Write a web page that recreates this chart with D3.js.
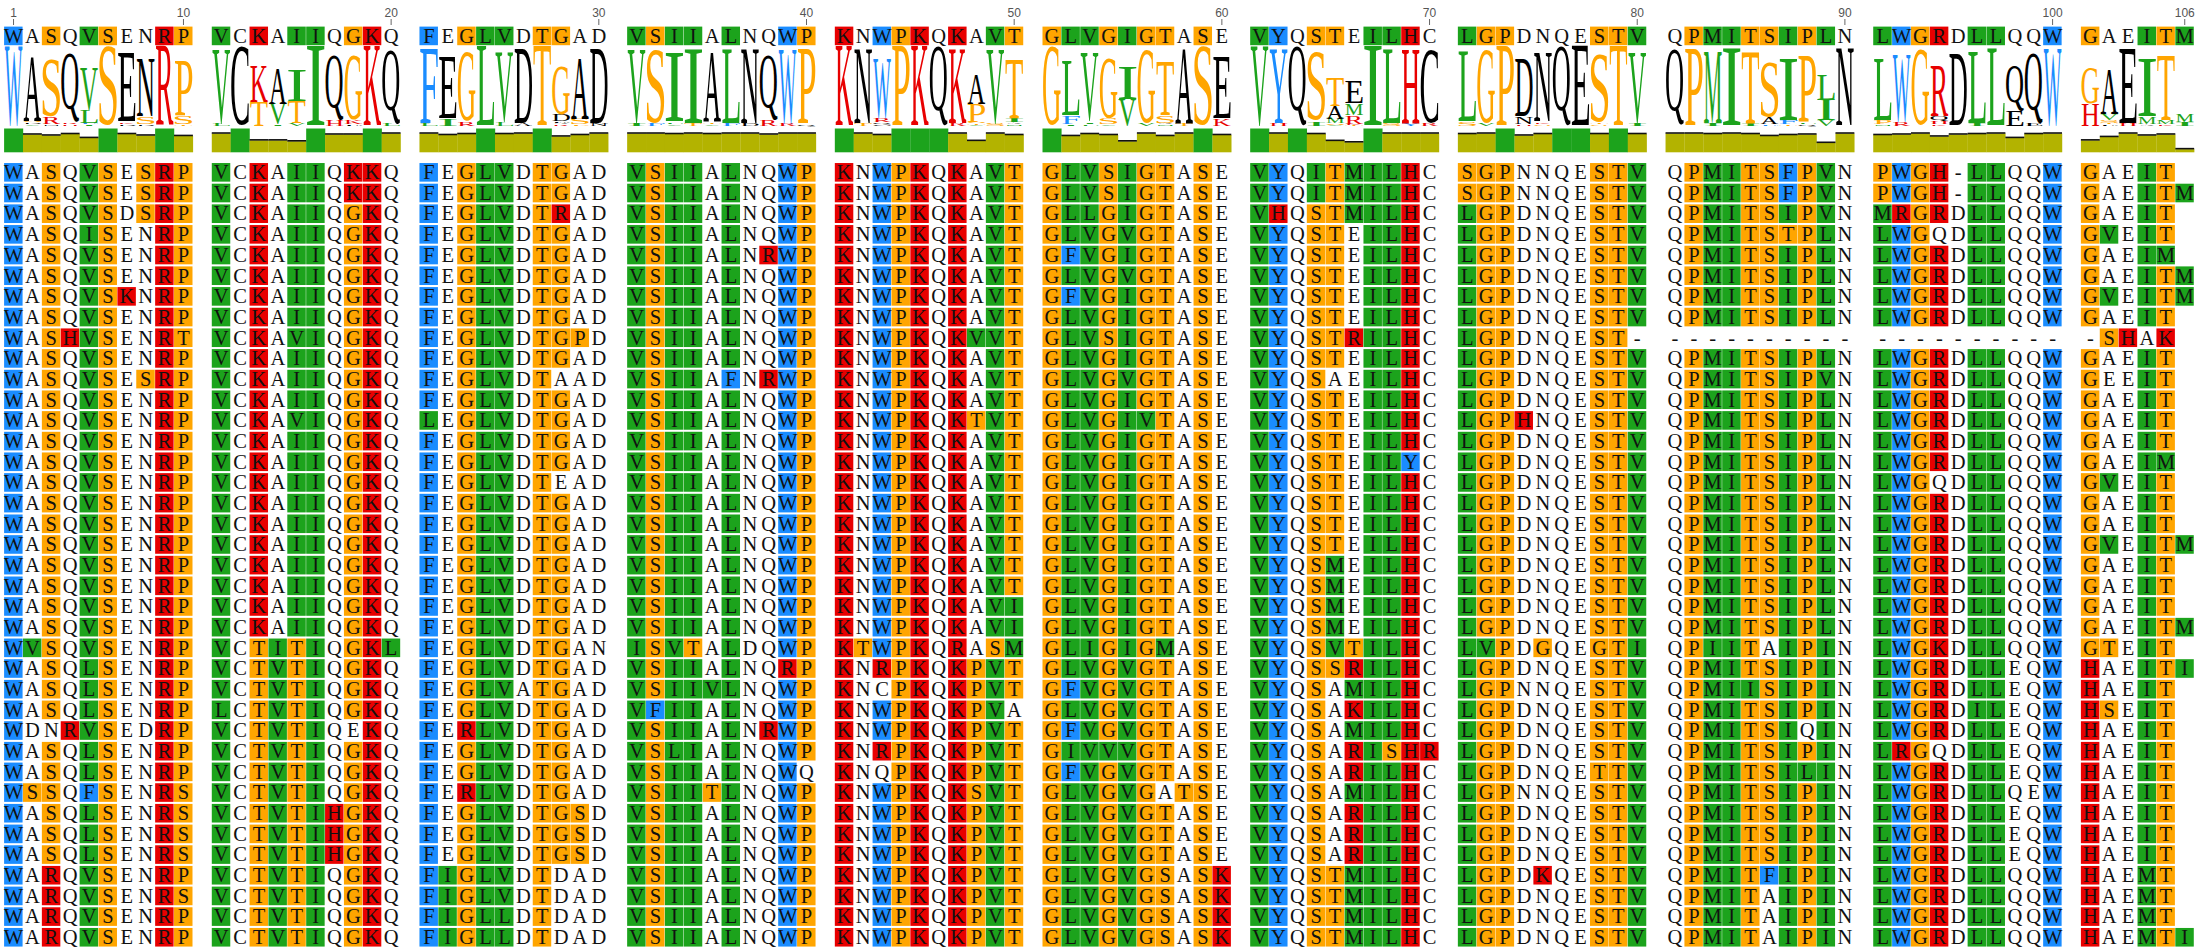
<!DOCTYPE html>
<html><head><meta charset="utf-8">
<script src="https://cdn.jsdelivr.net/npm/d3@7"></script>
<style>
html,body{margin:0;padding:0;background:#fff;}
svg{display:block;}
</style></head>
<body>
<svg id="chart" width="2201" height="949"></svg>
<script>
// ---------------- data ----------------
const consensusRow = "WASQVSENRP VCKAIIQGKQ FEGLVDTGAD VSIIALNQWP KNWPKQKAVT GLVGIGTASE VYQSTEILHC LGPDNQESTV QPMITSIPLN LWGRDLLQQW GAEITM";
const alignmentRows = [
"WASQVSESRP VCKAIIQKKQ FEGLVDTGAD VSIIALNQWP KNWPKQKAVT GLVSIGTASE VYQITMILHC SGPNNQESTV QPMITSFPVN PWGH-LLQQW GAEIT",
"WASQVSESRP VCKAIIQKKQ FEGLVDTGAD VSIIALNQWP KNWPKQKAVT GLVSIGTASE VYQITMILHC SGPNNQESTV QPMITSFPVN PWGH-LLQQW GAEITM",
"WASQVSDSRP VCKAIIQGKQ FEGLVDTRAD VSIIALNQWP KNWPKQKAVT GLLGIGTASE VHQSTMILHC LGPDNQESTV QPMITSIPVN MRGRDLLQQW GAEIT",
"WASQISENRP VCKAIIQGKQ FEGLVDTGAD VSIIALNQWP KNWPKQKAVT GLVGVGTASE VYQSTEILHC LGPDNQESTV QPMITSTPLN LWGQDLLQQW GVEIT",
"WASQVSENRP VCKAIIQGKQ FEGLVDTGAD VSIIALNRWP KNWPKQKAVT GFVGIGTASE VYQSTEILHC LGPDNQESTV QPMITSIPLN LWGRDLLQQW GAEIM",
"WASQVSENRP VCKAIIQGKQ FEGLVDTGAD VSIIALNQWP KNWPKQKAVT GLVGVGTASE VYQSTEILHC LGPDNQESTV QPMITSIPLN LWGRDLLQQW GAEITM",
"WASQVSKNRP VCKAIIQGKQ FEGLVDTGAD VSIIALNQWP KNWPKQKAVT GFVGIGTASE VYQSTEILHC LGPDNQESTV QPMITSIPLN LWGRDLLQQW GVEITM",
"WASQVSENRP VCKAIIQGKQ FEGLVDTGAD VSIIALNQWP KNWPKQKAVT GLVGIGTASE VYQSTEILHC LGPDNQESTV QPMITSIPLN LWGRDLLQQW GAEIT",
"WASHVSENRT VCKAVIQGKQ FEGLVDTGPD VSIIALNQWP KNWPKQKVVT GLVSIGTASE VYQSTRILHC LGPDNQEST- ---------- ---------- -SHAK",
"WASQVSENRP VCKAIIQGKQ FEGLVDTGAD VSIIALNQWP KNWPKQKAVT GLVGIGTASE VYQSTEILHC LGPDNQESTV QPMITSIPLN LWGRDLLQQW GAEIT",
"WASQVSESRP VCKAIIQGKQ FEGLVDTAAD VSIIAFNRWP KNWPKQKAVT GLVGVGTASE VYQSAEILHC LGPDNQESTV QPMITSIPVN LWGRDLLQQW GEEIT",
"WASQVSENRP VCKAIIQGKQ FEGLVDTGAD VSIIALNQWP KNWPKQKAVT GLVGIGTASE VYQSTEILHC LGPDNQESTV QPMITSIPLN LWGRDLLQQW GAEIT",
"WASQVSENRP VCKAVIQGKQ LEGLVDTGAD VSIIALNQWP KNWPKQKTVT GLVGIVTASE VYQSTEILHC LGPHNQESTV QPMITSIPLN LWGRDLLQQW GAEIT",
"WASQVSENRP VCKAIIQGKQ FEGLVDTGAD VSIIALNQWP KNWPKQKAVT GLVGIGTASE VYQSTEILHC LGPDNQESTV QPMITSIPLN LWGRDLLQQW GAEIT",
"WASQVSENRP VCKAIIQGKQ FEGLVDTGAD VSIIALNQWP KNWPKQKAVT GLVGIGTASE VYQSTEILYC LGPDNQESTV QPMITSIPLN LWGRDLLQQW GAEIM",
"WASQVSENRP VCKAIIQGKQ FEGLVDTEAD VSIIALNQWP KNWPKQKAVT GLVGIGTASE VYQSTEILHC LGPDNQESTV QPMITSIPLN LWGQDLLQQW GVEIT",
"WASQVSENRP VCKAIIQGKQ FEGLVDTGAD VSIIALNQWP KNWPKQKAVT GLVGIGTASE VYQSTEILHC LGPDNQESTV QPMITSIPLN LWGRDLLQQW GAEIT",
"WASQVSENRP VCKAIIQGKQ FEGLVDTGAD VSIIALNQWP KNWPKQKAVT GLVGIGTASE VYQSTEILHC LGPDNQESTV QPMITSIPLN LWGRDLLQQW GAEIT",
"WASQVSENRP VCKAIIQGKQ FEGLVDTGAD VSIIALNQWP KNWPKQKAVT GLVGIGTASE VYQSTEILHC LGPDNQESTV QPMITSIPLN LWGRDLLQQW GVEITM",
"WASQVSENRP VCKAIIQGKQ FEGLVDTGAD VSIIALNQWP KNWPKQKAVT GLVGIGTASE VYQSMEILHC LGPDNQESTV QPMITSIPLN LWGRDLLQQW GAEIT",
"WASQVSENRP VCKAIIQGKQ FEGLVDTGAD VSIIALNQWP KNWPKQKAVT GLVGIGTASE VYQSMEILHC LGPDNQESTV QPMITSIPLN LWGRDLLQQW GAEIT",
"WASQVSENRP VCKAIIQGKQ FEGLVDTGAD VSIIALNQWP KNWPKQKAVI GLVGIGTASE VYQSMEILHC LGPDNQESTV QPMITSIPLN LWGRDLLQQW GAEIT",
"WASQVSENRP VCKAIIQGKQ FEGLVDTGAD VSIIALNQWP KNWPKQKAVI GLVGIGTASE VYQSMEILHC LGPDNQESTV QPMITSIPLN LWGRDLLQQW GAEITM",
"WVSQVSENRP VCTITIQGKL FEGLVDTGAN ISVTALDQWP KTWPKQRASM GLIGIGMASE VYQSVTILHC LVPDGQEGTI QPIITAIPIN LWGKDLLQQW GTEIT",
"WASQLSENRP VCTVTIQGKQ FEGLVDTGAD VSIIALNQRP KNRPKQKPVT GLVGVGTASE VYQSSRILHC LGPDNQESTV QPMITSIPIN LWGRDLLEQW HAEITI",
"WASQLSENRP VCTVTIQGKQ FEGLVATGAD VSIIVLNQWP KNCPKQKPVT GFVGVGTASE VYQSAMILHC LGPNNQESTV QPMIISIPIN LWGRDLLEQW HAEIT",
"WASQLSENRP LCTVTIQGKQ FEGLVDTGAD VFIIALNQWP KNWPKQKPVA GLVGVGTASE VYQSAKILHC LGPDNQESTV QPMITSIPIN LWGRDILEQW HSEIT",
"WDNRVSEDRP VCTVTIQEKQ FERLVDTGAD VSIIALNRWP KNWPKQKPVT GFVGVGTASE VYQSAMILHC LGPDNQESTV QPMITSIQIN LWGRDLLEQW HAEIT",
"WASQLSENRP VCTVTIQGKQ FEGLVDTGAD VSLIALNQWP KNRPKQKPVT GIVVVGTASE VYQSARISHR LGPDNQESTV QPMITSIPIN LRGQDLLEQW HAEIT",
"WASQLSENRP VCTVTIQGKQ FEGLVDTGAD VSIIALNQWQ KNQPKQKPVT GFVGVGTASE VYQSARILHC LGPDNQETTV QPMITSILIN LWGRDLLEQW HAEIT",
"WSSQFSENRS VCTVTIQGKQ FERLVDTGAD VSIITLNQWP KNWPKQKSVT GLVGVGATSE VYQSAMILHC LGPNNQESTV QPMITSIPIN LWGRDLLQEW HAEIT",
"WASQLSENRS VCTVTIHGKQ FEGLVDTGSD VSIIALNQWP KNWPKQKPVT GLVGVGTASE VYQSARILHC LGPDNQESTV QPMITSIPIN LWGRDLLEQW HAEIT",
"WASQLSENRS VCTVTIHGKQ FEGLVDTGSD VSIIALNQWP KNWPKQKPVT GLVGVGTASE VYQSARILHC LGPDNQESTV QPMITSIPIN LWGRDLLEQW HAEIT",
"WASQLSENRS VCTVTIHGKQ FEGLVDTGSD VSIIALNQWP KNWPKQKPVT GLVGVGTASE VYQSARILHC LGPDNQESTV QPMITSIPIN LWGRDLLEQW HAEIT",
"WARQVSENRP VCTVTIQGKQ FIGLVDTDAD VSIIALNQWP KNWPKQKPVT GLVGVGSASK VYQSTMILHC LGPDKQESTV QPMITFIPIN LWGRDLLQQW HAEMT",
"WARQVSENRS VCTVTIQGKQ FIGLVDTDAD VSIIALNQWP KNWPKQKPVT GLVGVGSASK VYQSTMILHC LGPDNQESTV QPMITAIPIN LWGRDLLQQW HAEMT",
"WARQVSENRP VCTVTIQGKQ FIGLLDTDAD VSIIALNQWP KNWPKQKPVT GLVGVGSASK VYQSTMILHC LGPDNQESTV QPMITAIPIN LWGRDLLQQW HAEMT",
"WARQVSENRP VCTVTIQGKQ FIGLLDTDAD VSIIALNQWP KNWPKQKPVT GLVGVGSASK VYQSTMILHC LGPDNQESTV QPMITAIPIN LWGRDLLQQW HAEMTI"
];
const tickColumns = [1, 10, 20, 30, 40, 50, 60, 70, 80, 90, 100, 106];
const aminoAcids = "ACDEFGHIKLMNPQRSTVWY";
const residueGroups = [
  {residues: "WFY",  color: "#1a8cff"},
  {residues: "VILM", color: "#1ca31c"},
  {residues: "STGP", color: "#ffa500"},
  {residues: "KRH",  color: "#e80000"}
];

// ---------------- derived ----------------
const consensus = consensusRow.replace(/ /g, "");
const sequences = alignmentRows.map(r => r.replace(/ /g, ""));
const nRows = sequences.length, nCols = consensus.length;
const groupColor = c => { const g = residueGroups.find(g => g.residues.includes(c)); return g ? g.color : null; };

// ---------------- layout ----------------
const svg = d3.select("#chart");
const blockLen = 10;
const slotOf = i => Math.floor(i / blockLen) * (blockLen + 1) + (i % blockLen);
const nSlots = slotOf(nCols - 1) + 1;
const x = d3.scaleLinear().domain([0, nSlots]).range([4.1, 4.1 + nSlots * 18.88]);
const cw = x(1) - x(0);
const colLeft = i => x(slotOf(i));
const y = d3.scaleBand().domain(d3.range(nRows)).range([162, 947.6]).paddingInner(0.1).paddingOuter(0.05);
const cellH = y.bandwidth();
const seqFont = "'Liberation Serif', 'Times New Roman', serif";

// tick labels
const ticks = svg.append("g");
ticks.selectAll("text").data(tickColumns).join("text")
  .attr("x", d => colLeft(d - 1) + cw / 2).attr("y", 16.5)
  .attr("text-anchor", "middle").attr("font-family", "'Liberation Sans', Arial, sans-serif")
  .attr("font-size", 12).attr("fill", "#555").text(d => d);
ticks.selectAll("line").data(tickColumns).join("line")
  .attr("x1", d => colLeft(d - 1) + cw / 2).attr("x2", d => colLeft(d - 1) + cw / 2)
  .attr("y1", 19).attr("y2", 25).attr("stroke", "#666").attr("stroke-width", 1);

// a helper to draw one row of residues
function drawRow(g, str, top, h) {
  const cells = Array.from(str).map((c, i) => ({c, i}));
  g.selectAll("rect").data(cells.filter(d => groupColor(d.c))).join("rect")
    .attr("x", d => colLeft(d.i)).attr("y", top)
    .attr("width", cw - 0.4).attr("height", h)
    .attr("fill", d => groupColor(d.c));
  g.selectAll("text").data(cells).join("text")
    .attr("x", d => colLeft(d.i) + cw / 2).attr("y", top + h * 0.5 + 6.8)
    .attr("text-anchor", "middle").attr("font-family", seqFont)
    .attr("font-size", 20.5).attr("fill", "#111").text(d => d.c);
}

// consensus row
drawRow(svg.append("g"), consensus, 26.6, cellH);

// sequences
const rowsG = svg.append("g");
sequences.forEach((s, r) => drawRow(rowsG.append("g"), s, y(r), cellH));

// ---------------- logo + conservation bar ----------------
const logoBase = 126, logoTop = 47;
const logoY = d3.scaleLinear().domain([0, 1]).range([logoBase, logoTop]);
const barBottom = 152.3, barTop = 128.5;
const barY = d3.scaleLinear().domain([0, 1]).range([barBottom, barTop]);

const smallSample = (aminoAcids.length - 1) / (2 * Math.LN2 * nRows);
const maxInfo = Math.log2(aminoAcids.length) - smallSample;

const columnStats = d3.range(nCols).map(i => {
  const residues = sequences.map(s => s[i]).filter(c => c && aminoAcids.includes(c));
  const counts = d3.rollups(residues, v => v.length, d => d);
  const freqs = counts.map(([res, n]) => ({res, p: n / nRows}));
  const H = -d3.sum(freqs, d => d.p * Math.log2(d.p));
  const info = Math.max(0, Math.log2(aminoAcids.length) - H - smallSample) / maxInfo;
  const pmax = d3.max(freqs, d => d.p);
  const identical = counts.length === 1 && residues.length === nRows;
  freqs.sort((a, b) => a.p - b.p);
  let acc = 0;
  const stack = freqs.map(d => { const h = d.p * info; const o = {res: d.res, y0: acc, y1: acc + h}; acc += h; return o; });
  return {i, stack, identical, cons: identical ? 1 : Math.min(0.95, 0.03 + 0.78 * pmax)};
});

function drawLogo() {
  const ctx = document.createElement("canvas").getContext("2d");
  ctx.font = "100px 'Liberation Serif'";
  const metric = {};
  for (const ch of aminoAcids) {
    const m = ctx.measureText(ch);
    metric[ch] = {l: m.actualBoundingBoxLeft, r: m.actualBoundingBoxRight, a: m.actualBoundingBoxAscent, d: m.actualBoundingBoxDescent};
  }
  const logoG = svg.append("g");
  const letters = columnStats.flatMap(c => c.stack.map(s => ({...s, i: c.i})))
    .filter(d => logoY(d.y0) - logoY(d.y1) > 0.4);
  logoG.selectAll("text").data(letters).join("text")
    .attr("font-family", "'Liberation Serif', serif").attr("font-size", 100)
    .attr("fill", d => groupColor(d.res) || "#000")
    .attr("transform", d => {
      const m = metric[d.res];
      const w = cw - 1.2, h = logoY(d.y0) - logoY(d.y1);
      const sx = w / (m.l + m.r), sy = h / (m.a + m.d);
      return `translate(${colLeft(d.i) + 0.6},${logoY(d.y1)}) scale(${sx},${sy}) translate(${m.l},${m.a})`;
    })
    .text(d => d.res);

  const barG = svg.append("g");
  barG.selectAll("rect").data(columnStats).join("rect")
    .attr("x", d => colLeft(d.i)).attr("width", cw + 0.2)
    .attr("y", d => barY(d.cons)).attr("height", d => barBottom - barY(d.cons))
    .attr("fill", d => d.identical ? "#1ca31c" : "#b3b300");
  barG.selectAll("line").data(columnStats.filter(d => !d.identical)).join("line")
    .attr("x1", d => colLeft(d.i)).attr("x2", d => colLeft(d.i) + cw)
    .attr("y1", d => barY(d.cons) - 0.5).attr("y2", d => barY(d.cons) - 0.5)
    .attr("stroke", "#111").attr("stroke-width", 1.6);
}
if (document.fonts && document.fonts.load) {
  document.fonts.load("100px 'Liberation Serif'").then(drawLogo, drawLogo);
} else drawLogo();
</script>
</body></html>
